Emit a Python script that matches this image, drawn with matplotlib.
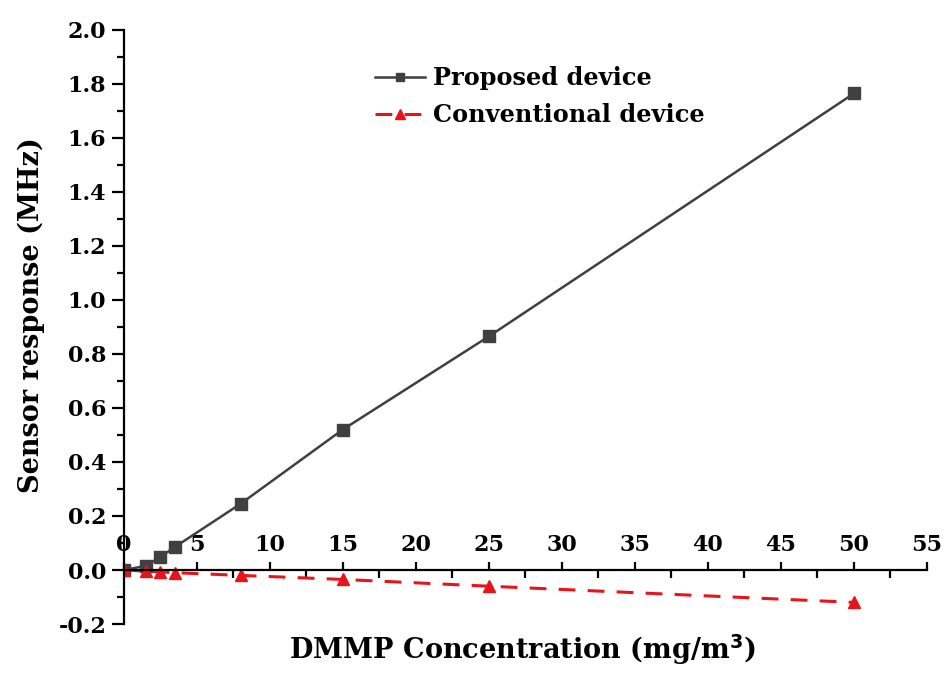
import matplotlib
matplotlib.use('Agg')
import matplotlib.pyplot as plt
from matplotlib.ticker import MultipleLocator
import numpy as np

# data
conc = [0, 1.5, 2.5, 3.5, 8, 15, 25, 50]
proposed = [0.0, 0.015, 0.048, 0.085, 0.245, 0.52, 0.865, 1.765]
conventional = [0.0, -0.004, -0.007, -0.01, -0.02, -0.035, -0.06, -0.12]

x_ticks = list(range(0, 60, 5))
y_ticks = [-0.2, 0.0, 0.2, 0.4, 0.6, 0.8, 1.0, 1.2, 1.4, 1.6, 1.8, 2.0]

plt.rcParams['font.family'] = ['DejaVu Serif']
plt.rcParams['font.weight'] = 'bold'
plt.rcParams['axes.unicode_minus'] = False

fig = plt.figure(figsize=(9.44, 6.73), dpi=100)
ax = fig.add_axes([0.131, 0.0728, 0.851, 0.8827])

ax.plot(conc, proposed, color='#404040', linewidth=1.8, marker='s', markersize=8,
        label='Proposed device')
ax.plot(conc, conventional, color='#e8141b', linewidth=2.2, linestyle=(0, (5.5, 4)),
        marker='^', markersize=9, label='Conventional device')

ax.set_xlim(0, 55)
ax.set_ylim(-0.2, 2.0)

# x axis sits at y=0, labels above it
ax.spines['right'].set_visible(False)
ax.spines['bottom'].set_visible(False)
ax.spines['top'].set_position(('data', 0))
ax.spines['top'].set_linewidth(1.6)
ax.spines['left'].set_linewidth(1.6)
ax.xaxis.set_ticks_position('top')
ax.xaxis.set_label_position('top')
ax.set_xticks(x_ticks)
ax.xaxis.set_minor_locator(MultipleLocator(2.5))
ax.tick_params(axis='x', which='major', direction='out', length=6, width=1.6,
               labelsize=16, pad=4)
ax.tick_params(axis='x', which='minor', direction='in', length=6, width=1.6)

ax.set_yticks(y_ticks)
ax.set_yticklabels(['%.1f' % v for v in y_ticks])
ax.yaxis.set_minor_locator(MultipleLocator(0.1))
ax.tick_params(axis='y', which='major', direction='out', length=8.5, width=1.6,
               labelsize=16, pad=4)
ax.tick_params(axis='y', which='minor', direction='out', length=5, width=1.6)
for lbl in ax.get_xticklabels() + ax.get_yticklabels():
    lbl.set_fontweight('bold')

ax.set_ylabel('Sensor response (MHz)', fontsize=19.5, fontweight='bold')
ax.yaxis.set_label_coords(-0.098, 0.52)
fig.text(0.553, 0.034, r'DMMP Concentration (mg/m$^\mathbf{3}$)', ha='center', va='center',
         fontsize=19.5, fontweight='bold')

ax.legend(loc='upper left', bbox_to_anchor=(0.3126, 0.939), frameon=False,
          prop={'size': 17.3, 'weight': 'bold'}, handlelength=2.1, handletextpad=0.33,
          labelspacing=0.55, borderpad=0, borderaxespad=0, markerscale=0.8)

plt.savefig('out.png', dpi=100)
